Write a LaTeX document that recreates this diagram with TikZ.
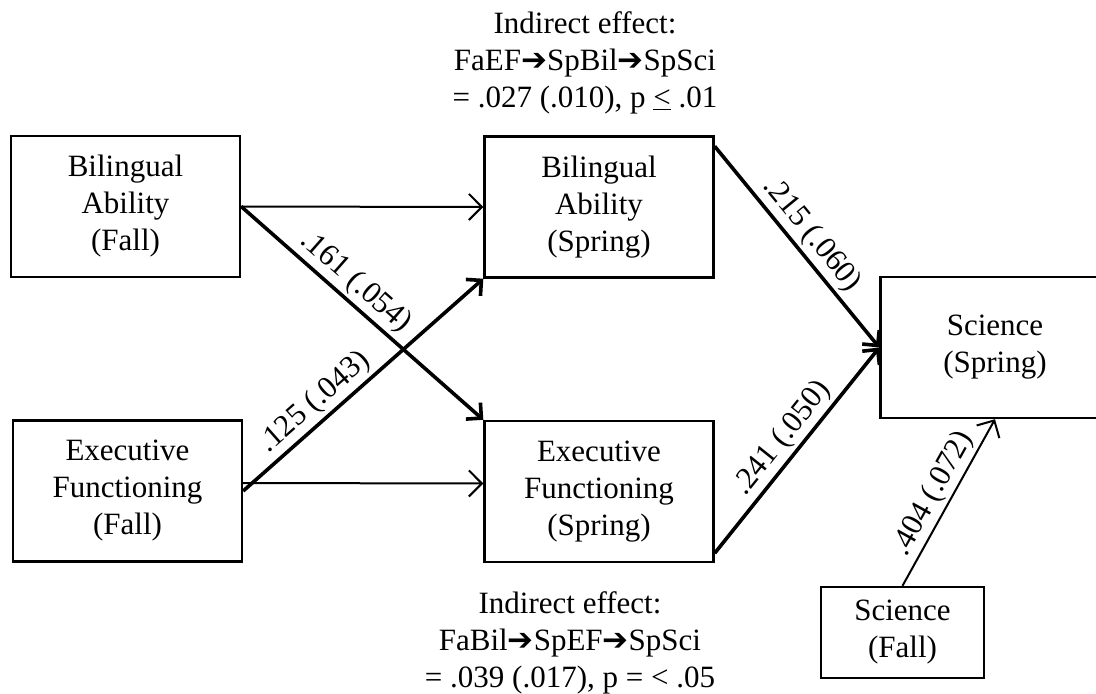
\documentclass[tikz,border=0pt]{standalone}
\usepackage{fontspec}
\setmainfont{Liberation Serif}
\newfontfamily\arrowfont{DejaVu Sans}
\usetikzlibrary{arrows.meta}
\newcommand{\bigarr}{{\arrowfont\bfseries ➔}}
\tikzset{
  var/.style={draw, line width=2.4pt, align=center, inner sep=0pt,
    minimum width=229pt, minimum height=141pt},
  thinpath/.style={line width=2pt, -{Straight Barb[length=13pt,width=26pt]}},
  boldpath/.style={line width=3.6pt, -{Straight Barb[length=11pt,width=22pt]}},
  coef/.style={sloped, above, inner sep=3pt}
}
\begin{document}
\begin{tikzpicture}[x=1pt,y=-1pt,font=\fontsize{31}{37}\selectfont]
  \useasboundingbox (0,0) rectangle (1096,694);
  % fall
  \node[var] (bilfa) at (125.5,206.5) {Bilingual\\Ability\\(Fall)};
  \node[var] (effa) at (127.5,491) {Executive\\Functioning\\(Fall)};
  % spring
  \node[var] (bilsp) at (599,207) {Bilingual\\Ability\\(Spring)};
  \node[var] (efsp) at (599,491.5) {Executive\\Functioning\\(Spring)};
  \node[var] (scisp) at (995,347.5) {Science\\(Spring)};
  \node[var, minimum width=163pt, minimum height=91pt] (scifa) at (902.5,632.5) {Science\\(Fall)};
  % indirect effects
  \node[align=center] (indtop) at (585,63)
    {Indirect effect:\\FaEF\bigarr SpBil\bigarr SpSci\\= .027 (.010), p \underline{<} .01};
  \node[align=center] (indbot) at (570,643)
    {Indirect effect:\\FaBil\bigarr SpEF\bigarr SpSci\\= .039 (.017), p = < .05};
  % paths
  \draw[thinpath] (bilfa.east) -- (bilsp.west);
  \draw[thinpath] ([yshift=8pt]effa.east) -- ([yshift=8pt]efsp.west);
  \draw[boldpath] (bilfa.east) -- node[coef,pos=0.42] {.161 (.054)} (efsp.north west);
  \draw[boldpath] (effa.east) -- node[coef,pos=0.35] {.125 (.043)} (bilsp.south west);
  \draw[boldpath] ([yshift=-11pt]bilsp.north east) -- node[coef,pos=0.5] {.215 (.060)} (scisp.west);
  \draw[boldpath] ([yshift=10pt]efsp.south east) -- node[coef,pos=0.5] {.241 (.050)} (scisp.west);
  \draw[thinpath] (scifa.north) -- node[coef,pos=0.5] {.404 (.072)} (scisp.south);
\end{tikzpicture}
\end{document}
